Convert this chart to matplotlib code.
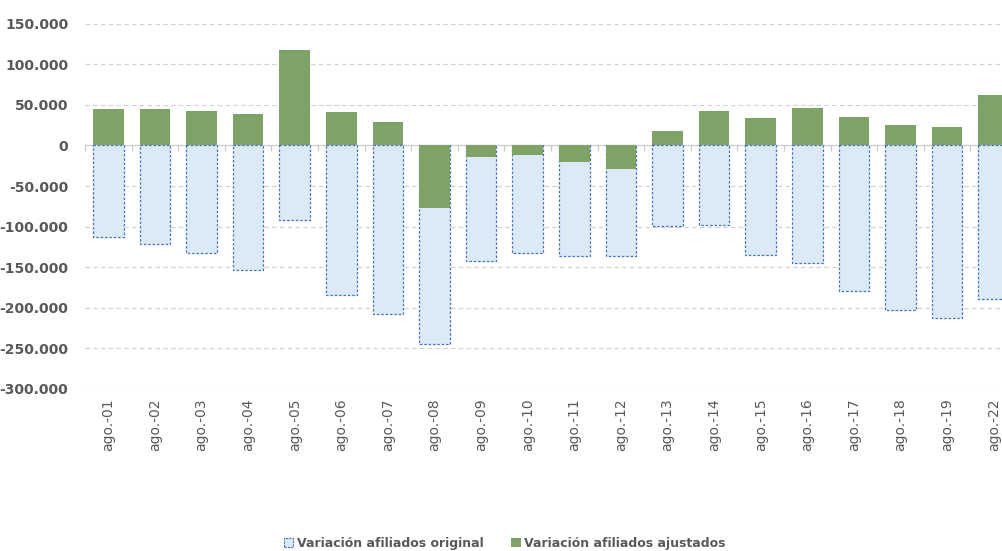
import numpy as np
import matplotlib
matplotlib.use('Agg')
import matplotlib.pyplot as plt
from matplotlib.patches import Patch
from matplotlib.ticker import FuncFormatter

categorias = ["ago.-01", "ago.-02", "ago.-03", "ago.-04", "ago.-05", "ago.-06", "ago.-07",
              "ago.-08", "ago.-09", "ago.-10", "ago.-11", "ago.-12", "ago.-13", "ago.-14",
              "ago.-15", "ago.-16", "ago.-17", "ago.-18", "ago.-19", "ago.-22"]
original = [-113000, -121600, -132000, -154000, -92000, -184000, -207000,
            -244000, -142000, -132000, -136400, -136400, -99500, -98300,
            -135200, -145000, -179000, -203000, -213000, -189000]
ajustados = [44600, 44600, 42900, 38400, 118000, 41000, 29300,
             -76500, -14200, -11700, -20300, -29300, 17800, 42900,
             34200, 45800, 35500, 25200, 22400, 62200]

gris = '#595959'
verde = '#7FA266'
azul_fondo = '#DCE9F6'
azul_borde = '#4472C4'

fig = plt.figure(figsize=(10.03, 5.51), dpi=100)
# the last bar is cut off at the right edge in the original
ax = fig.add_axes([85 / 1003, 1 - 389 / 551, 932 / 1003, (389 - 23.7) / 551])

x = np.arange(len(categorias))
ax.bar(x, original, width=0.66, color=azul_fondo, edgecolor=azul_borde,
       linewidth=0.9, linestyle=(0, (2, 1.5)), zorder=2)
ax.bar(x, ajustados, width=0.66, color=verde, zorder=3)

ax.set_xlim(-0.5, len(categorias) - 0.5)
ax.set_ylim(-300000, 150000)
ax.set_yticks(np.arange(-300000, 150001, 50000))
ax.yaxis.set_major_formatter(FuncFormatter(lambda v, p: f"{int(v):,}".replace(",", ".")))
ax.grid(axis='y', color='#D0D0D0', linestyle=(0, (4, 3)), linewidth=0.8, zorder=0)
ax.tick_params(axis='y', length=0, pad=12, labelsize=10, labelcolor=gris)
for t in ax.get_yticklabels():
    t.set_fontweight('bold')

for s in ['top', 'right', 'left']:
    ax.spines[s].set_visible(False)
# axis line at zero with small ticks between categories
ax.spines['bottom'].set_position(('data', 0))
ax.spines['bottom'].set_color('#C8C8C8')
ax.spines['bottom'].set_zorder(1)
ax.set_xticks(np.arange(len(categorias) + 1) - 0.5)
ax.tick_params(axis='x', length=4, color='#C8C8C8', labelbottom=False)

sec = ax.secondary_xaxis(0)
sec.set_xticks(x)
sec.set_xticklabels(categorias, rotation=90)
sec.tick_params(length=0, pad=6.5, labelsize=10, labelcolor=gris)
sec.spines['bottom'].set_visible(False)

handles = [Patch(facecolor=azul_fondo, edgecolor=azul_borde, linestyle=(0, (2, 1)), linewidth=0.8),
           Patch(facecolor=verde)]
leg = fig.legend(handles, ["Variación afiliados original", "Variación afiliados ajustados"],
                 loc='center', bbox_to_anchor=(505 / 1003, 0.014), ncol=2, frameon=False,
                 handlelength=0.75, handleheight=0.75, handletextpad=0.3, columnspacing=2.2,
                 prop={'weight': 'bold', 'size': 9})
for t in leg.get_texts():
    t.set_color(gris)

fig.savefig('out.png', dpi=100)
